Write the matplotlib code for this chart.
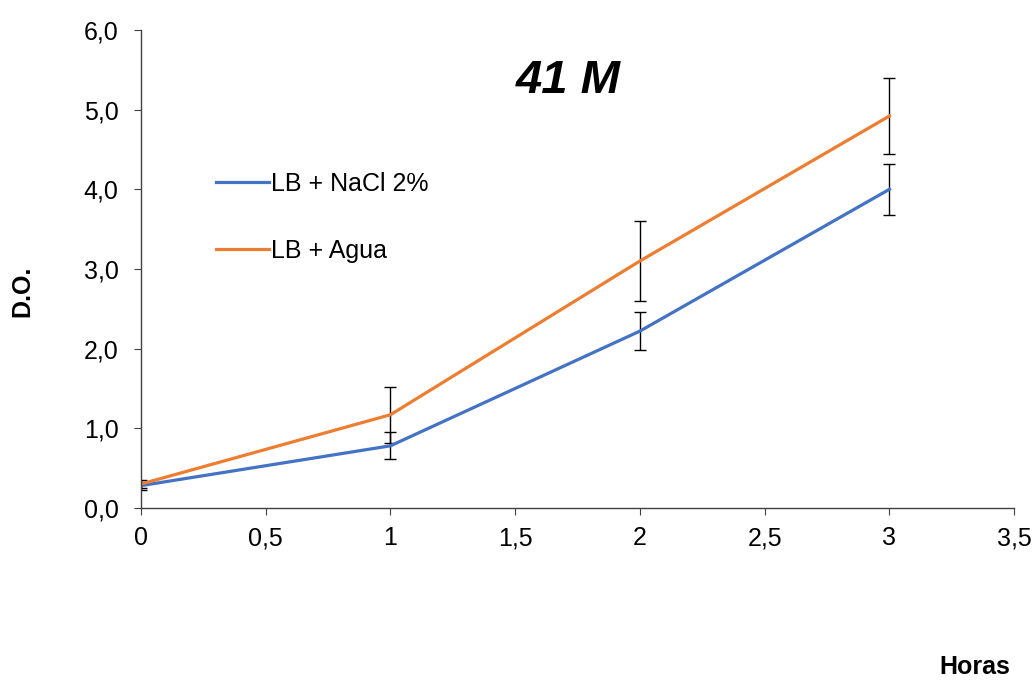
import matplotlib
matplotlib.use("Agg")
import matplotlib.pyplot as plt
from matplotlib.lines import Line2D
from matplotlib.ticker import FuncFormatter

plt.rcParams['font.family'] = ['Liberation Sans', 'DejaVu Sans']

# Datos de crecimiento (D.O.) por hora
horas = [0, 1, 2, 3]
nacl = [0.28, 0.78, 2.22, 4.00]
nacl_err = [0.05, 0.17, 0.24, 0.32]
agua = [0.30, 1.17, 3.10, 4.92]
agua_err = [0.05, 0.35, 0.50, 0.48]
series = ['LB + NaCl 2%', 'LB + Agua']
colores = ['#4472C4', '#ED7D31']

fig = plt.figure(figsize=(10.36, 6.8), dpi=100)
ax = fig.add_axes([0.136, 0.253, 0.843, 0.703])

for y, err, c in [(nacl, nacl_err, colores[0]), (agua, agua_err, colores[1])]:
    ax.errorbar(horas, y, yerr=err, color=c, lw=2.3,
                ecolor='black', elinewidth=1, capsize=4.3, capthick=1)

ax.set_xlim(0, 3.5)
ax.set_ylim(0, 6)
ax.set_xticks([0, 0.5, 1, 1.5, 2, 2.5, 3, 3.5])
ax.set_yticks([0, 1, 2, 3, 4, 5, 6])


def coma_x(v, pos):
    if v == int(v):
        return str(int(v))
    return ('%.1f' % v).replace('.', ',')


ax.xaxis.set_major_formatter(FuncFormatter(coma_x))
ax.yaxis.set_major_formatter(FuncFormatter(lambda v, p: ('%.1f' % v).replace('.', ',')))

for s in ['top', 'right']:
    ax.spines[s].set_visible(False)
for s in ['left', 'bottom']:
    ax.spines[s].set_color('#404040')
    ax.spines[s].set_linewidth(1)
ax.tick_params(labelsize=18, length=5, color='#404040')
ax.tick_params(axis='x', pad=8)
ax.tick_params(axis='y', pad=11)

fig.text(568 / 1036, 1 - 93 / 680, '41 M', fontsize=34, fontweight='bold',
         style='italic', ha='center', va='baseline')
fig.text(0.022, 0.571, 'D.O.', rotation=90, fontsize=18, fontweight='bold',
         ha='center', va='center')
fig.text(0.941, 0.019, 'Horas', fontsize=18, fontweight='bold',
         ha='center', va='center')

handles = [Line2D([], [], color=c, lw=2.3) for c in colores]
ax.legend(handles, series, loc='upper left', bbox_to_anchor=(0.2085, 0.747),
          bbox_transform=fig.transFigure, frameon=False, fontsize=18,
          handlelength=2.1, handletextpad=0.1, labelspacing=1.72,
          borderpad=0, borderaxespad=0)

fig.savefig('out.png', dpi=100)
